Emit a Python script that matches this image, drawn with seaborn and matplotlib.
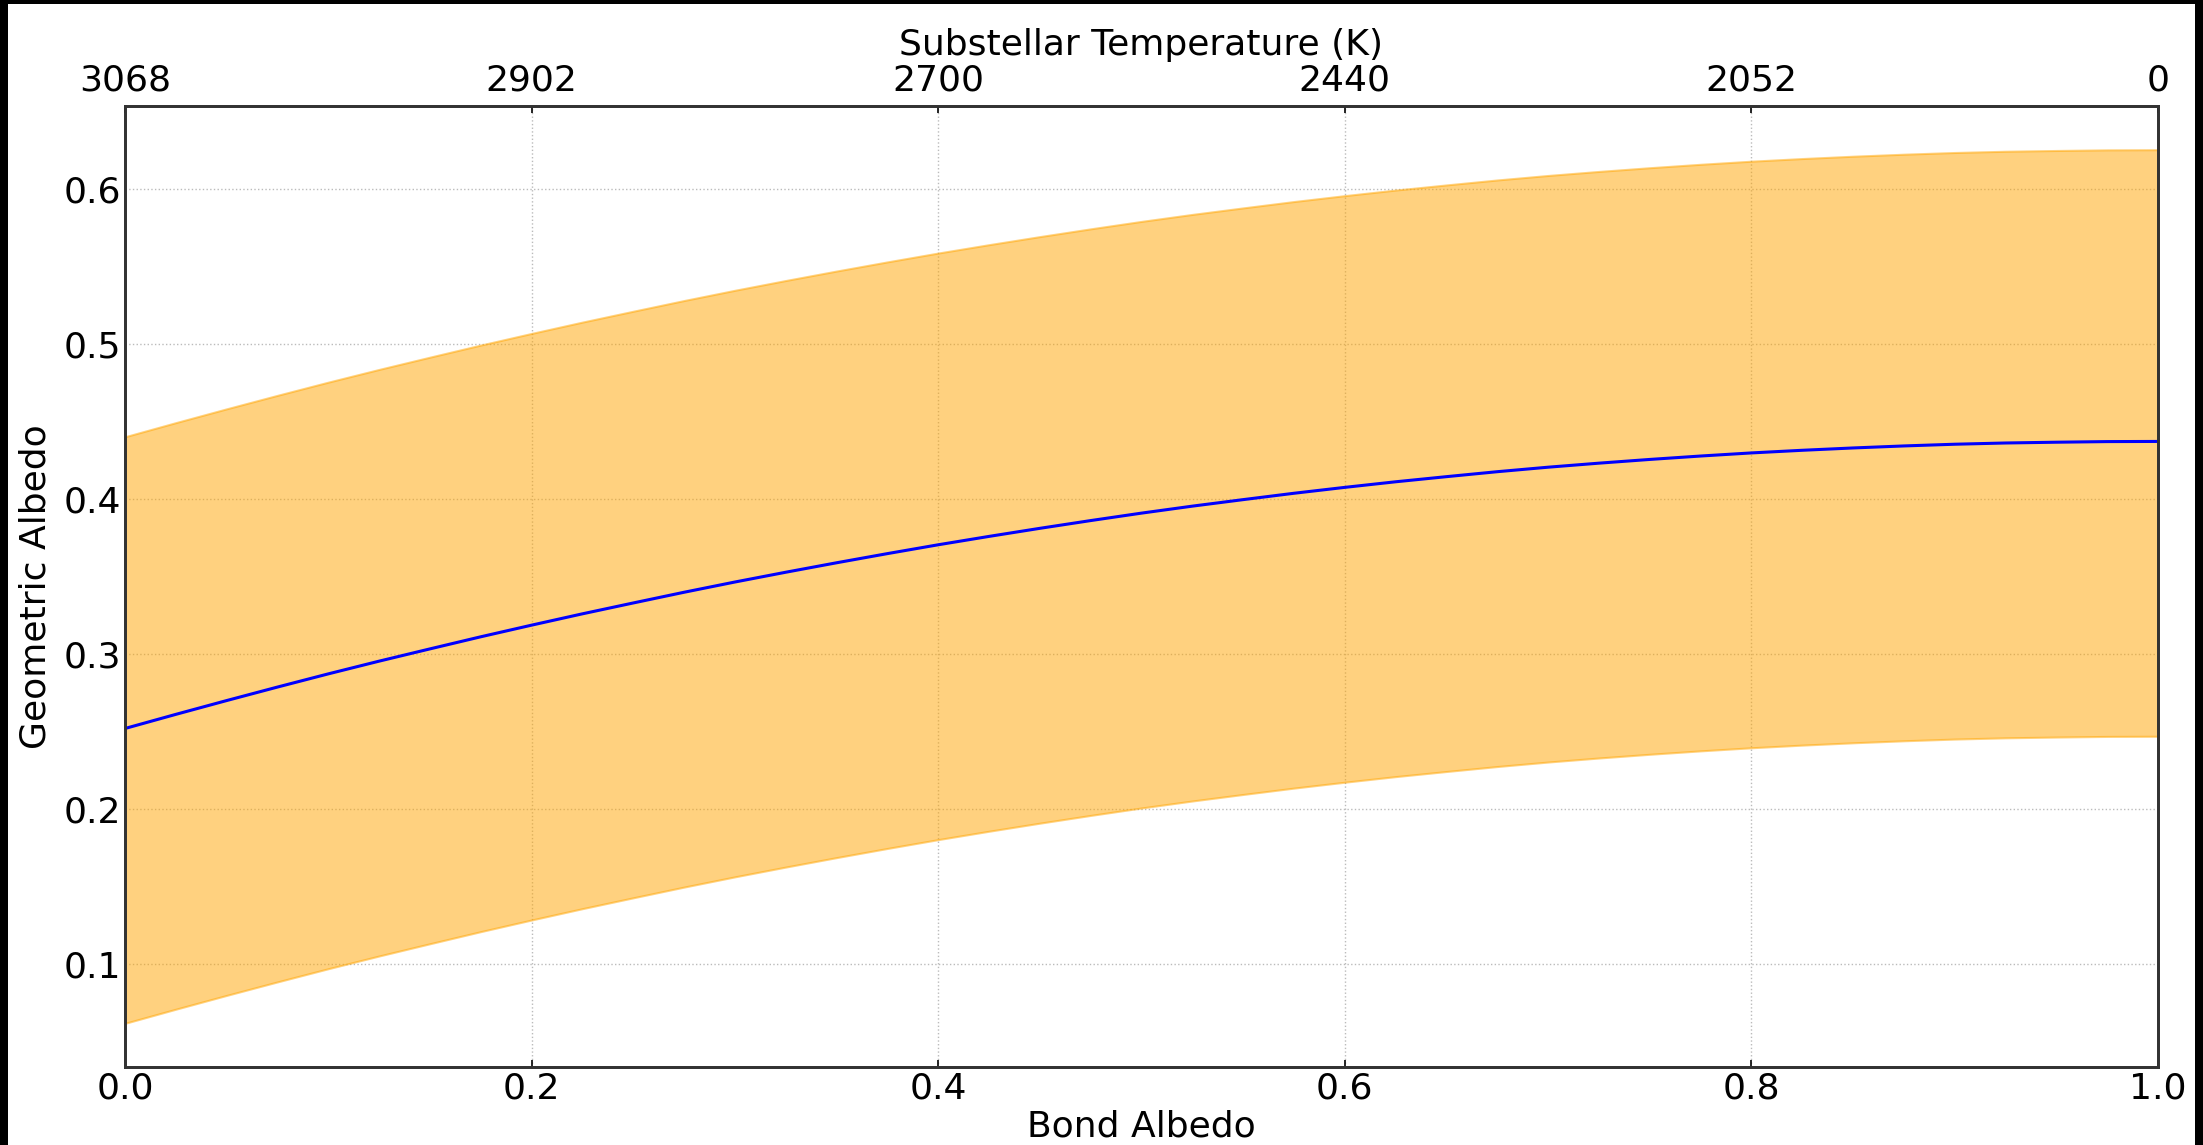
import numpy as np
import pandas as pd
import matplotlib
matplotlib.use("Agg")
import matplotlib.pyplot as plt
from matplotlib.patches import Rectangle
import seaborn as sns

# Data
bond_albedo = [0.000, 0.025, 0.050, 0.075, 0.100, 0.125, 0.150, 0.175, 0.200, 0.225,
               0.250, 0.275, 0.300, 0.325, 0.350, 0.375, 0.400, 0.425, 0.450, 0.475,
               0.500, 0.525, 0.550, 0.575, 0.600, 0.625, 0.650, 0.675, 0.700, 0.725,
               0.750, 0.775, 0.800, 0.825, 0.850, 0.875, 0.900, 0.925, 0.950, 0.975, 1.000]
geo_mid = [0.2520, 0.2611, 0.2700, 0.2787, 0.2872, 0.2954, 0.3033, 0.3111, 0.3186, 0.3259,
           0.3329, 0.3398, 0.3464, 0.3527, 0.3588, 0.3647, 0.3704, 0.3758, 0.3810, 0.3860,
           0.3908, 0.3953, 0.3995, 0.4036, 0.4074, 0.4110, 0.4143, 0.4175, 0.4204, 0.4230,
           0.4254, 0.4276, 0.4296, 0.4313, 0.4328, 0.4341, 0.4352, 0.4360, 0.4365, 0.4369, 0.4370]
geo_upper = [0.4400, 0.4491, 0.4580, 0.4667, 0.4752, 0.4834, 0.4913, 0.4991, 0.5066, 0.5139,
             0.5209, 0.5278, 0.5344, 0.5407, 0.5468, 0.5527, 0.5584, 0.5638, 0.5690, 0.5740,
             0.5788, 0.5833, 0.5875, 0.5916, 0.5954, 0.5990, 0.6023, 0.6055, 0.6084, 0.6110,
             0.6134, 0.6156, 0.6176, 0.6193, 0.6208, 0.6221, 0.6232, 0.6240, 0.6245, 0.6249, 0.6250]
geo_lower = [0.0620, 0.0711, 0.0800, 0.0887, 0.0972, 0.1054, 0.1133, 0.1211, 0.1286, 0.1359,
             0.1429, 0.1498, 0.1564, 0.1627, 0.1688, 0.1747, 0.1804, 0.1858, 0.1910, 0.1960,
             0.2008, 0.2053, 0.2095, 0.2136, 0.2174, 0.2210, 0.2243, 0.2275, 0.2304, 0.2330,
             0.2354, 0.2376, 0.2396, 0.2413, 0.2428, 0.2441, 0.2452, 0.2460, 0.2465, 0.2469, 0.2470]
top_tick_pos = [0.0, 0.2, 0.4, 0.6, 0.8, 1.0]
top_tick_labels = ["3068", "2902", "2700", "2440", "2052", "0"]
bottom_ticks = [0.0, 0.2, 0.4, 0.6, 0.8, 1.0]
y_ticks = [0.1, 0.2, 0.3, 0.4, 0.5, 0.6]

df = pd.DataFrame({"bond": bond_albedo, "mid": geo_mid})

sns.set_style("white")
plt.rcParams["font.family"] = ["DejaVu Sans"]
plt.rcParams["text.color"] = "black"
plt.rcParams["axes.labelcolor"] = "black"
plt.rcParams["xtick.color"] = "black"
plt.rcParams["ytick.color"] = "black"

fig = plt.figure(figsize=(22.03, 11.45), dpi=100)
ax = fig.add_axes([0.0567, 0.0681, 0.9796 - 0.0567, 0.9074 - 0.0681])

ax.fill_between(bond_albedo, geo_lower, geo_upper, color="orange", alpha=0.5, linewidth=1.5)
sns.lineplot(data=df, x="bond", y="mid", ax=ax, color="blue", linewidth=2.2)

ax.set_xlim(0, 1)
ax.set_xticks(bottom_ticks)
ax.set_xticklabels([f"{t:.1f}" for t in bottom_ticks])
ax.set_yticks(y_ticks)
ax.set_yticklabels([f"{t:.1f}" for t in y_ticks])

fs = 26
ax.set_xlabel("Bond Albedo", fontsize=fs, labelpad=3)
ax.set_ylabel("Geometric Albedo", fontsize=fs, labelpad=8)
ax.tick_params(axis="both", which="major", labelsize=fs, direction="in", length=5,
               width=1.2, colors="black", pad=3)
ax.grid(True, linestyle=":", color="#bbbbbb", linewidth=1)

for s in ax.spines.values():
    s.set_color("#333333")
    s.set_linewidth(2)

ax2 = ax.twiny()
ax2.set_xlim(ax.get_xlim())
ax2.set_xticks(top_tick_pos)
ax2.set_xticklabels(top_tick_labels)
ax2.set_xlabel("Substellar Temperature (K)", fontsize=fs, labelpad=6)
ax2.tick_params(axis="x", labelsize=fs, direction="in", length=5, width=1.2,
                colors="black", pad=6)
for s in ax2.spines.values():
    s.set_color("#333333")
    s.set_linewidth(2)

# black frame around the figure
W, H = 2203, 1145
for (x0, y0, w, h) in [(0, 0, 8 / W, 1), (1 - 8 / W, 0, 8 / W, 1), (0, 1 - 4 / H, 1, 4 / H)]:
    fig.add_artist(Rectangle((x0, y0), w, h, transform=fig.transFigure,
                             facecolor="black", edgecolor="none", zorder=10))

fig.savefig("out.png", dpi=100, facecolor="white")
